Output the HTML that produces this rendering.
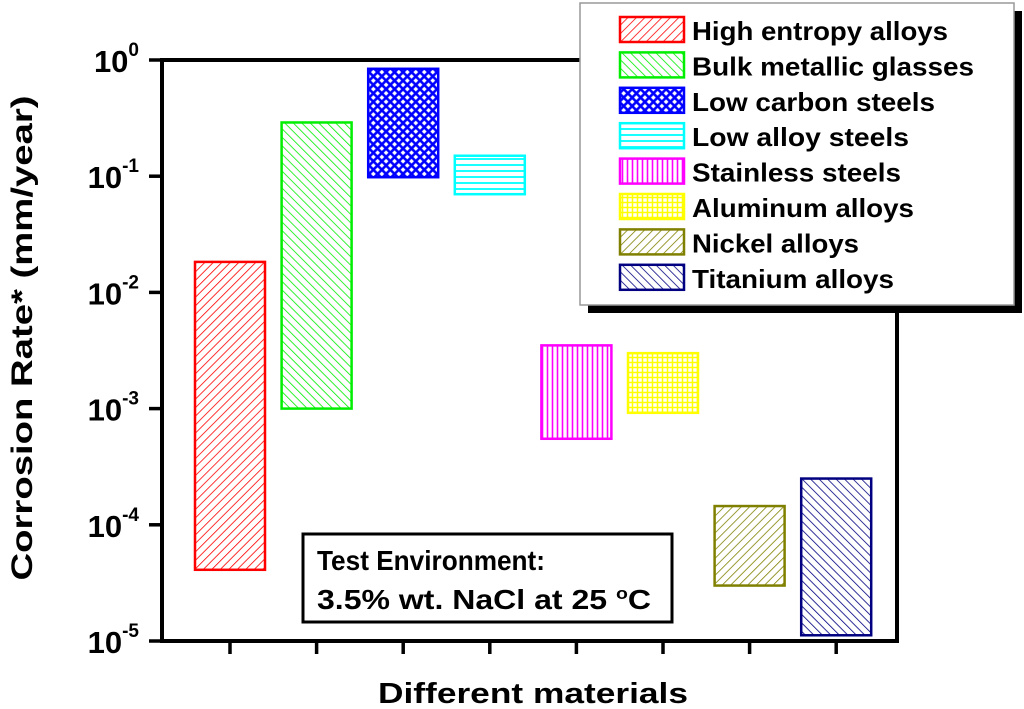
<!DOCTYPE html>
<html><head><meta charset="utf-8"><style>
html,body{margin:0;padding:0;background:#fff;}
svg{display:block;font-family:"Liberation Sans",Arial,sans-serif;font-weight:bold;}
</style></head><body>
<svg id="chart" width="1024" height="709" viewBox="0 0 1024 709" xmlns="http://www.w3.org/2000/svg">
<defs>
<pattern id="p-red" patternUnits="userSpaceOnUse" width="6" height="6" patternTransform="rotate(45)"><line x1="0" y1="0" x2="0" y2="6" stroke="#ff0000" stroke-width="1.6"/></pattern>
<pattern id="p-green" patternUnits="userSpaceOnUse" width="6" height="6" patternTransform="rotate(-45)"><line x1="0" y1="0" x2="0" y2="6" stroke="#00ee00" stroke-width="1.6"/></pattern>
<pattern id="p-blue" patternUnits="userSpaceOnUse" width="6" height="6" patternTransform="rotate(45)"><rect width="6" height="6" fill="#0000ff"/><rect x="1.3" y="1.3" width="3.4" height="3.4" fill="#fff"/></pattern>
<pattern id="p-cyan" patternUnits="userSpaceOnUse" width="6" height="6"><line x1="0" y1="3" x2="6" y2="3" stroke="#00ffff" stroke-width="1.8"/></pattern>
<pattern id="p-magenta" patternUnits="userSpaceOnUse" width="5" height="5"><line x1="2.5" y1="0" x2="2.5" y2="5" stroke="#ff00ff" stroke-width="1.6"/></pattern>
<pattern id="p-yellow" patternUnits="userSpaceOnUse" width="5" height="5"><line x1="2.5" y1="0" x2="2.5" y2="5" stroke="#ffff00" stroke-width="1.5"/><line x1="0" y1="2.5" x2="5" y2="2.5" stroke="#ffff00" stroke-width="1.5"/></pattern>
<pattern id="p-olive" patternUnits="userSpaceOnUse" width="6" height="6" patternTransform="rotate(45)"><line x1="0" y1="0" x2="0" y2="6" stroke="#808000" stroke-width="1.6"/></pattern>
<pattern id="p-navy" patternUnits="userSpaceOnUse" width="6" height="6" patternTransform="rotate(-45)"><line x1="0" y1="0" x2="0" y2="6" stroke="#000080" stroke-width="1.6"/></pattern>
</defs>
<g id="bars"></g>
<g id="axes"></g>
<g>
<rect x="303" y="534" width="369" height="88" fill="#fff" stroke="#000" stroke-width="3"/>
<text x="317" y="570" font-size="28" textLength="228" lengthAdjust="spacingAndGlyphs">Test Environment:</text>
<text x="317" y="609" font-size="28" textLength="334" lengthAdjust="spacingAndGlyphs">3.5% wt. NaCl at 25 <tspan font-size="17" dy="-10">o</tspan><tspan dy="10">C</tspan></text>
</g>
<g id="legend">
<rect x="588" y="11" width="434" height="302" fill="#000"/>
<rect x="580" y="3" width="434" height="302" fill="#fff" stroke="#999" stroke-width="1.5"/>
</g>
<text transform="translate(32,338) rotate(-90)" text-anchor="middle" font-size="30" textLength="485" lengthAdjust="spacingAndGlyphs">Corrosion Rate* (mm/year)</text>
<text x="533" y="703" text-anchor="middle" font-size="29" textLength="310" lengthAdjust="spacingAndGlyphs">Different materials</text>
</svg>
<script>
const categories = ["High entropy alloys","Bulk metallic glasses","Low carbon steels","Low alloy steels","Stainless steels","Aluminum alloys","Nickel alloys","Titanium alloys"];
const highValues = [0.0183, 0.29, 0.84, 0.15, 0.0035, 0.003, 0.000145, 0.00025];
const lowValues = [0.000041, 0.001, 0.098, 0.07, 0.00055, 0.00092, 0.00003, 0.0000112];
const colors = ["#ff0000","#00ee00","#0000ff","#00ffff","#ff00ff","#ffff00","#808000","#000080"];
const patterns = ["p-red","p-green","p-blue","p-cyan","p-magenta","p-yellow","p-olive","p-navy"];
const yTickExps = [0,-1,-2,-3,-4,-5];

const NS = "http://www.w3.org/2000/svg";
const yTop = 60, decade = 116.2;
function yScale(v){ return yTop - Math.log10(v) * decade; }
function xScale(i){ return 230 + i * 86.6; }
const barW = 70;
const barsG = document.getElementById('bars');
const axesG = document.getElementById('axes');
const legendG = document.getElementById('legend');
const legendWidths = [256, 282, 243, 217, 209, 222, 167, 202];

categories.forEach((c,i)=>{
  const y1 = yScale(highValues[i]), y2 = yScale(lowValues[i]);
  const r = document.createElementNS(NS,'rect');
  r.setAttribute('x', xScale(i)-barW/2);
  r.setAttribute('y', y1);
  r.setAttribute('width', barW);
  r.setAttribute('height', y2-y1);
  r.setAttribute('fill', 'url(#'+patterns[i]+')');
  r.setAttribute('stroke', colors[i]);
  r.setAttribute('stroke-width', 2.5);
  
  
  barsG.appendChild(r);

  const t = document.createElementNS(NS,'line');
  t.setAttribute('x1', xScale(i)); t.setAttribute('x2', xScale(i));
  t.setAttribute('y1', 641); t.setAttribute('y2', 654);
  t.setAttribute('stroke','#000'); t.setAttribute('stroke-width',3.5);
  
  
  axesG.appendChild(t);

  const ly = 17 + i*35.4;
  const sw = document.createElementNS(NS,'rect');
  sw.setAttribute('x',620); sw.setAttribute('y',ly);
  sw.setAttribute('width',64); sw.setAttribute('height',25);
  sw.setAttribute('fill','url(#'+patterns[i]+')');
  sw.setAttribute('stroke',colors[i]); sw.setAttribute('stroke-width',2.5);
  
  
  legendG.appendChild(sw);
  const lt = document.createElementNS(NS,'text');
  lt.setAttribute('x',692); lt.setAttribute('y',ly+23);
  lt.setAttribute('font-size',26);
  lt.setAttribute('textLength', legendWidths[i]);
  lt.setAttribute('lengthAdjust','spacingAndGlyphs');
  lt.textContent = c;
  
  
  legendG.appendChild(lt);
});

const frame = document.createElementNS(NS,'path');
frame.setAttribute('d','M162 60 L897 60 L897 641 L162 641 Z');
frame.setAttribute('fill','none'); frame.setAttribute('stroke','#000'); frame.setAttribute('stroke-width',4);


axesG.appendChild(frame);

yTickExps.forEach(e=>{
  const y = yScale(Math.pow(10,e));
  const t = document.createElementNS(NS,'line');
  t.setAttribute('x1',149); t.setAttribute('x2',162);
  t.setAttribute('y1',y); t.setAttribute('y2',y);
  t.setAttribute('stroke','#000'); t.setAttribute('stroke-width',3.5);
  
  
  axesG.appendChild(t);
  const lab = document.createElementNS(NS,'text');
  lab.setAttribute('x',139); lab.setAttribute('y',y+12);
  lab.setAttribute('text-anchor','end');
  lab.setAttribute('font-size',31);
  lab.innerHTML = '10<tspan font-size="19" dy="-16">'+e+'</tspan>';
  
  
  axesG.appendChild(lab);
});
</script>
</body></html>
